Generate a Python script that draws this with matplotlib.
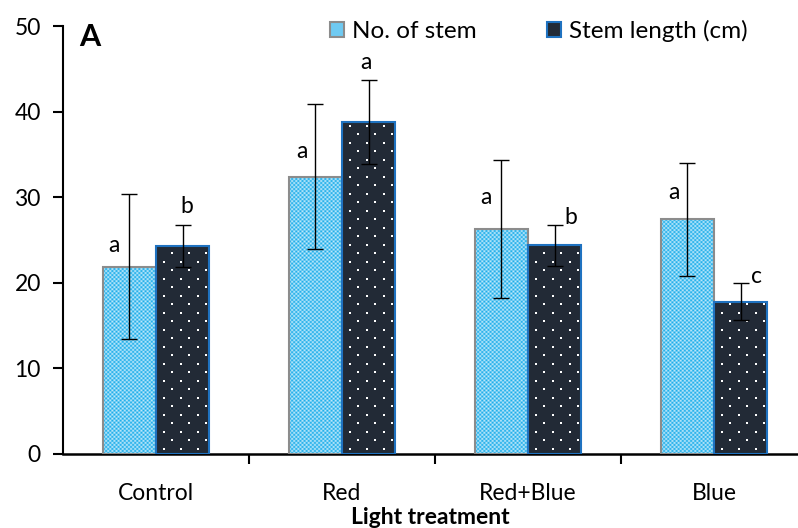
import numpy as np
import matplotlib
matplotlib.use("Agg")
from matplotlib import pyplot as plt
from matplotlib.patches import Patch

plt.rcParams['font.family'] = ['Lato', 'DejaVu Sans']

# data
treatments = ["Control", "Red", "Red+Blue", "Blue"]
no_stem = [21.9, 32.4, 26.3, 27.4]
no_stem_err = [8.5, 8.5, 8.05, 6.65]
stem_len = [24.3, 38.8, 24.4, 17.8]
stem_len_err = [2.4, 4.9, 2.4, 2.2]
no_stem_letters = ["a", "a", "a", "a"]
stem_len_letters = ["b", "a", "b", "c"]
# letter positions (x offset from category, y value)
no_stem_lab_pos = [(-0.226, 24.4), (-0.215, 35.3), (-0.226, 30.0), (-0.215, 30.5)]
stem_len_lab_pos = [(0.167, 28.9), (0.129, 45.7), (0.231, 27.6), (0.226, 20.7)]

light_blue = "#1badea"
light_blue2 = "#bfe8fa"
dark = "#222a36"
grey_edge = "#8c8c8c"
blue_edge = "#1f72c0"

fig = plt.figure(figsize=(7.98, 5.28), dpi=100)
W, H = 798, 528
ax = fig.add_axes([63 / W, (528 - 454) / H, (797 - 63) / W, (454 - 26) / H])

x = np.arange(len(treatments))
bw = 0.285

b1 = ax.bar(x - bw / 2, no_stem, bw, facecolor="none", edgecolor=grey_edge, linewidth=1.5, zorder=3)
b2 = ax.bar(x + bw / 2, stem_len, bw, facecolor=dark, edgecolor=blue_edge, linewidth=1.5, zorder=3)

# checker texture for the light blue bars
c1 = np.array(matplotlib.colors.to_rgb(light_blue))
c2 = np.array(matplotlib.colors.to_rgb(light_blue2))
for r in b1:
    x0, y0 = r.get_x(), r.get_y()
    w, h = r.get_width(), r.get_height()
    nx = 26
    ny = int(h * 8.56 / 2)
    ii, jj = np.indices((ny, nx))
    chk = (ii + jj) % 2
    img = np.where(chk[..., None] == 0, c1, c2)
    ax.imshow(img, extent=(x0, x0 + w, y0, y0 + h), aspect="auto",
              interpolation="antialiased", zorder=2)

# dotted texture for the dark bars
for r in b2:
    x0, w, h = r.get_x(), r.get_width(), r.get_height()
    dx = 17 / 186
    dy = 8.5 / 8.56
    px, py = [], []
    k = 0
    yy = dy * 0.6
    while yy < h:
        off = 0 if k % 2 == 0 else dx / 2
        xx = x0 + dx * 0.45 + off
        while xx < x0 + w:
            px.append(xx)
            py.append(yy)
            xx += dx
        yy += dy
        k += 1
    ax.scatter(px, py, s=2.2, marker="s", color="white", linewidths=0, zorder=4)

ax.errorbar(x - bw / 2, no_stem, yerr=no_stem_err, fmt="none", ecolor="black",
            elinewidth=1, capsize=6, capthick=1, zorder=5)
ax.errorbar(x + bw / 2, stem_len, yerr=stem_len_err, fmt="none", ecolor="black",
            elinewidth=1, capsize=6, capthick=1, zorder=5)

fs = 16.5
for i in range(len(treatments)):
    ax.text(x[i] + no_stem_lab_pos[i][0], no_stem_lab_pos[i][1], no_stem_letters[i],
            ha="center", va="center", fontsize=fs)
    ax.text(x[i] + stem_len_lab_pos[i][0], stem_len_lab_pos[i][1], stem_len_letters[i],
            ha="center", va="center", fontsize=fs)

ax.set_xlim(-0.5, 3.5 - 10 / 186)
ax.set_ylim(0, 50)
ax.set_yticks([0, 10, 20, 30, 40, 50])
ax.set_xticks(x)
ax.set_xticklabels(treatments, fontsize=fs)
ax.set_xticks([0.5, 1.5, 2.5], minor=True)
ax.tick_params(axis="x", which="major", length=0, pad=21)
ax.tick_params(axis="x", which="minor", length=7, width=1.5, direction="out")
ax.tick_params(axis="y", length=7, width=1.5, direction="out", labelsize=fs, pad=9)
for s in ["top", "right"]:
    ax.spines[s].set_visible(False)
ax.spines["left"].set_linewidth(1.5)
ax.spines["bottom"].set_linewidth(1.8)

ax.set_xlabel("Light treatment", fontsize=fs, fontweight="bold", labelpad=2)
ax.text(79 / W, (528 - 37) / H, "A", transform=fig.transFigure, fontsize=22,
        fontweight="bold", va="center", ha="left")

handles = [Patch(facecolor="#6fcaf2", edgecolor=grey_edge, linewidth=1.5),
           Patch(facecolor=dark, edgecolor=blue_edge, linewidth=1.5)]
fig.legend(handles, ["No. of stem", "Stem length (cm)"], loc="center left",
           bbox_to_anchor=(308 / W, (528 - 31) / H), ncol=2, frameon=False,
           fontsize=17.5, handlelength=0.6, handleheight=0.6, handletextpad=0.3,
           columnspacing=2.9)

fig.savefig("out.png", dpi=100)
